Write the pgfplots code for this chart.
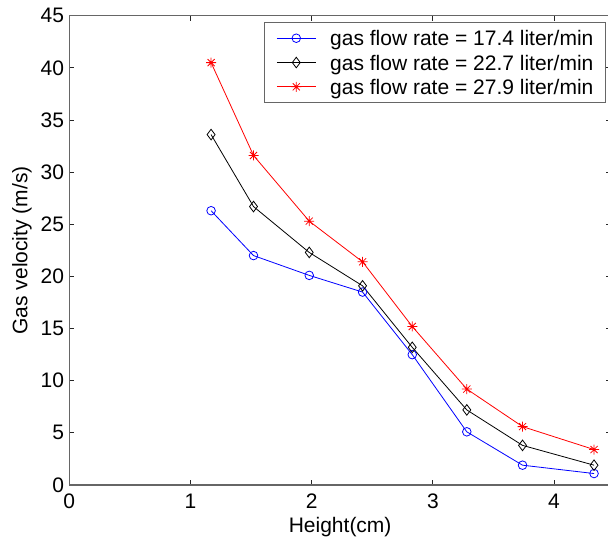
\documentclass[border=0pt]{standalone}
\usepackage{pgfplots}
\pgfplotsset{compat=1.18}
\usepackage{fontspec}
\setmainfont{Liberation Sans}
\pgfdeclareplotmark{mstar}{%
  \pgfpathmoveto{\pgfqpoint{-\pgfplotmarksize}{0pt}}\pgfpathlineto{\pgfqpoint{\pgfplotmarksize}{0pt}}%
  \pgfpathmoveto{\pgfqpoint{0pt}{-\pgfplotmarksize}}\pgfpathlineto{\pgfqpoint{0pt}{\pgfplotmarksize}}%
  \pgfpathmoveto{\pgfqpoint{-.707\pgfplotmarksize}{-.707\pgfplotmarksize}}\pgfpathlineto{\pgfqpoint{.707\pgfplotmarksize}{.707\pgfplotmarksize}}%
  \pgfpathmoveto{\pgfqpoint{-.707\pgfplotmarksize}{.707\pgfplotmarksize}}\pgfpathlineto{\pgfqpoint{.707\pgfplotmarksize}{-.707\pgfplotmarksize}}%
  \pgfusepathqstroke}
\pgfplotstableread{
x blue black red
1.17 26.3 33.6 40.5
1.52 22.0 26.7 31.6
1.98 20.1 22.3 25.3
2.42 18.5 19.1 21.4
2.83 12.5 13.2 15.2
3.28 5.1 7.2 9.2
3.74 1.9 3.8 5.6
4.33 1.1 1.9 3.4
}\data
\begin{document}
\begin{tikzpicture}[font=\fontsize{21}{25}\selectfont]
\begin{axis}[
  scale only axis,
  width=541.7pt, height=469.3pt,
  xmin=0, xmax=4.47, ymin=0, ymax=45,
  xtick={0,1,2,3,4}, ytick={0,5,...,45},
  tick align=inside,
  major tick length=5pt,
  axis line style={black!60, line width=1.4pt},
  tick style={black!85, line width=0.8pt},
  /pgf/number format/assume math mode=true,
  xticklabel style={inner sep=0pt, anchor=north, yshift=-9pt},
  yticklabel style={inner sep=0pt, anchor=east, xshift=-5pt},
  xlabel={Height(cm)},
  ylabel={Gas velocity (m/s)},
  every axis x label/.style={at={(axis description cs:0.5,0)}, anchor=base, yshift=-47.7pt},
  every axis y label/.style={at={(axis description cs:0,0.5)}, xshift=-42pt, rotate=90, anchor=base},
  legend cell align=left,
  legend image code/.code={\draw[mark repeat=2,mark phase=2,#1] plot coordinates {(0pt,0pt) (19.5pt,0pt) (39pt,0pt)};},
  legend style={at={(axis description cs:0.3594,0.9859)}, anchor=north west,
    draw=black!60, line width=0.8pt, inner xsep=12pt, inner ysep=8pt,
    row sep=9.3pt, column sep=14pt,
    nodes={inner sep=0pt, text height=15pt, text depth=0pt, anchor=west}},
]
\addplot[blue, line width=0.8pt, mark=o, mark size=4.3pt, mark options={line width=0.8pt}] table[x=x, y=blue] {\data};
\addlegendentry{gas flow rate = 17.4 liter/min}
\addplot[black, line width=0.8pt, mark=diamond, mark size=5.3pt, mark options={line width=0.8pt}] table[x=x, y=black] {\data};
\addlegendentry{gas flow rate = 22.7 liter/min}
\addplot[red, line width=0.8pt, mark=mstar, mark size=5pt, mark options={line width=0.8pt}] table[x=x, y=red] {\data};
\addlegendentry{gas flow rate = 27.9 liter/min}
\coordinate (ll) at (rel axis cs:0,0);
\end{axis}
\pgfresetboundingbox
\path[use as bounding box] ([shift={(-69.3pt,-57pt)}]ll) rectangle ([shift={(538.7pt,485pt)}]ll);
\end{tikzpicture}
\end{document}
